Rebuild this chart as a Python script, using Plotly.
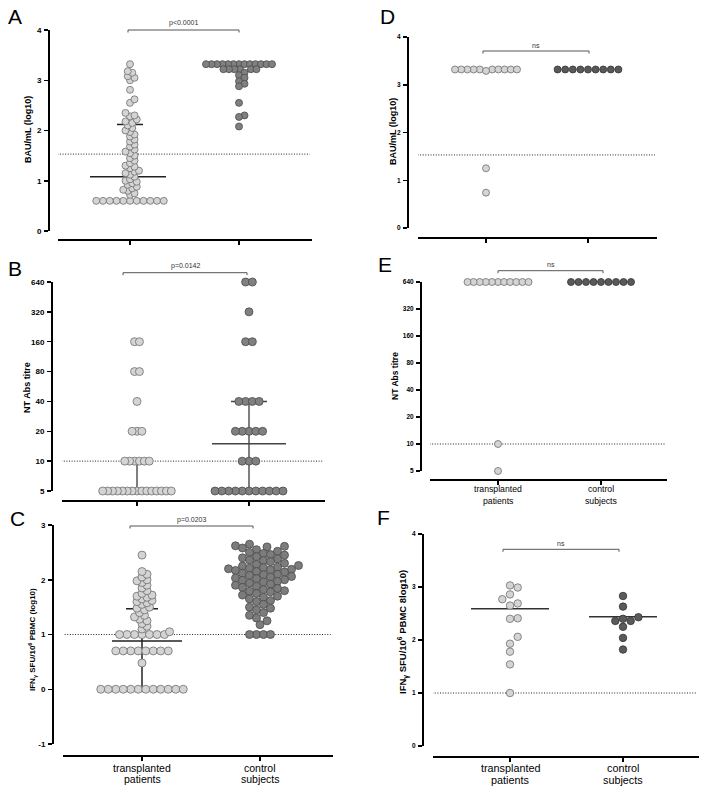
import math
import plotly.graph_objects as go

W, H = 705, 792

# ---------------- data ----------------
categories = ["transplanted<br>patients", "control<br>subjects"]

A_trans = [0.6, 0.6, 0.6, 0.6, 0.6, 0.6, 0.6, 0.6, 0.6, 0.6, 0.6,
           0.72, 0.75, 0.8, 0.82, 0.85, 0.88, 0.92, 0.95, 0.98, 1.0, 1.03,
           1.08, 1.12, 1.15, 1.18, 1.2, 1.25, 1.28, 1.3, 1.35, 1.4, 1.45,
           1.5, 1.55, 1.58, 1.62, 1.68, 1.72, 1.78, 1.82, 1.88, 1.92, 1.97,
           2.0, 2.05, 2.1, 2.15, 2.18, 2.22, 2.28, 2.3, 2.35, 2.55, 2.62,
           2.81, 3.0, 3.05, 3.08, 3.15, 3.18, 3.32]
A_ctrl = [3.32, 3.32, 3.32, 3.32, 3.32, 3.32, 3.32, 3.32, 3.32, 3.32, 3.32,
          3.32, 3.32, 3.22, 3.22, 3.22, 3.22, 3.22, 3.22, 3.15, 3.1, 3.05,
          2.98, 2.93, 2.88, 2.55, 2.3, 2.27, 2.08]
A_trans_median, A_trans_q3 = 1.08, 2.12

B_trans = [5, 5, 5, 5, 5, 5, 5, 5, 5, 5, 5, 5, 5, 5, 5,
           10, 10, 10, 10, 10, 10, 20, 20, 20, 40, 80, 80, 160, 160]
B_ctrl = [5, 5, 5, 5, 5, 5, 5, 5, 5, 5, 5, 10, 10, 10,
          20, 20, 20, 20, 20, 40, 40, 40, 40, 160, 160, 320, 640, 640]
B_trans_median, B_trans_q3 = 5, 10
B_ctrl_median, B_ctrl_q1, B_ctrl_q3 = 15, 5, 40

C_trans = [0, 0, 0, 0, 0, 0, 0, 0, 0, 0, 0, 0, 0.48,
           0.7, 0.7, 0.7, 0.7, 0.7, 0.7, 0.7, 0.7,
           1.0, 1.0, 1.0, 1.0, 1.0, 1.0, 1.0,
           1.05, 1.1, 1.15, 1.2, 1.25, 1.28, 1.32, 1.35, 1.4, 1.45, 1.48,
           1.5, 1.55, 1.58, 1.6, 1.62, 1.65, 1.68, 1.7, 1.72, 1.75, 1.8,
           1.85, 1.9, 1.95, 1.98, 2.0, 2.05, 2.1, 2.15, 2.45]
C_ctrl = [2.65, 2.62, 2.61, 2.6, 2.58, 2.55,
          2.52, 2.5, 2.48, 2.46, 2.45, 2.42,
          2.4, 2.38, 2.36, 2.35, 2.33, 2.3, 2.28,
          2.26, 2.25, 2.23, 2.22, 2.21, 2.2, 2.19, 2.18, 2.17, 2.15,
          2.14, 2.12, 2.1, 2.09, 2.08, 2.06, 2.05, 2.03, 2.02,
          2.0, 1.99, 1.97, 1.96, 1.94, 1.92, 1.9, 1.88,
          1.86, 1.84, 1.82, 1.8, 1.79, 1.78, 1.75,
          1.72, 1.7, 1.68, 1.65, 1.62,
          1.6, 1.55, 1.5, 1.48, 1.45, 1.4, 1.35, 1.3, 1.25, 1.18,
          1.0, 1.0, 1.0, 1.0]
C_trans_median, C_trans_q1, C_trans_q3 = 0.88, 0.0, 1.47

D_trans = [3.32, 3.32, 3.32, 3.32, 3.32, 3.32, 3.32, 3.32, 3.32, 3.32, 3.29, 1.25, 0.74]
D_ctrl = [3.32, 3.32, 3.32, 3.32, 3.32, 3.32, 3.32, 3.32, 3.32]

E_trans = [640, 640, 640, 640, 640, 640, 640, 640, 640, 640, 640, 10, 5]
E_ctrl = [640, 640, 640, 640, 640, 640, 640, 640, 640]

F_trans = [3.03, 2.99, 2.86, 2.77, 2.69, 2.65, 2.41, 2.40, 2.06, 1.93, 1.78, 1.54, 1.0]
F_ctrl = [2.83, 2.63, 2.43, 2.40, 2.36, 2.36, 2.25, 2.04, 1.82]
F_trans_mean, F_ctrl_mean = 2.59, 2.44

thresholds = {"A": 1.53, "B": 10, "C": 1.0, "D": 1.53, "E": 10, "F": 1.0}
pvalues = {"A": "p<0.0001", "B": "p=0.0142", "C": "p=0.0203", "D": "ns", "E": "ns", "F": "ns"}
ylin_ticks = {"A": [0, 1, 2, 3, 4], "C": [-1, 0, 1, 2, 3], "D": [0, 1, 2, 3, 4], "F": [0, 1, 2, 3, 4]}
ylog_ticks = [5, 10, 20, 40, 80, 160, 320, 640]
ytitles = {
    "A": "BAU/mL (log10)",
    "B": "NT Abs titre",
    "C": "IFN<sub>γ</sub> SFU/10<sup>6</sup> PBMC (log10)",
    "D": "BAU/mL (log10)",
    "E": "NT Abs titre",
    "F": "IFN<sub>γ</sub> SFU/10<sup>6</sup> PBMC 8log10)",
}

# ---------------- layout geometry (page pixels) ----------------
# xlab = (font size, first line centre y, second line centre y)
P = {
    "A": dict(yx=49, ytop=30, ybot=231, xl=58, xr=312, c1=130, c2=239, xline=240, yr=[0, 4], log=False,
              ms=7, tfs=8, ttl=(28, 130, 9), let=(15, 16), br=(128, 239, 30), xlab=None),
    "B": dict(yx=52, ytop=282, ybot=491, xl=62, xr=325, c1=137, c2=249, xline=500.7, yr=[5, 640], log=True,
              ms=8, tfs=8, ttl=(27, 388, 9), let=(15, 268), br=(123, 247, 272.7), xlab=None),
    "C": dict(yx=53, ytop=525, ybot=744, xl=63, xr=333, c1=142, c2=260, xline=756, yr=[-1, 3], log=False,
              ms=8, tfs=8, ttl=(32, 640, 8), let=(17, 518), br=(130, 253, 526), xlab=(10.5, 767.7, 779.3)),
    "D": dict(yx=408, ytop=37, ybot=228, xl=418, xr=657, c1=486, c2=588, xline=238, yr=[0, 4], log=False,
              ms=7, tfs=6.5, ttl=(393, 132, 9), let=(387, 16), br=(483, 589, 51), xlab=None),
    "E": dict(yx=421, ytop=282, ybot=471, xl=430, xr=667, c1=498, c2=601, xline=480, yr=[5, 640], log=True,
              ms=7, tfs=6.5, ttl=(395, 376, 8.5), let=(385, 265), br=(498, 603, 270.7), xlab=(8.7, 489.3, 500.7)),
    "F": dict(yx=423, ytop=534, ybot=746, xl=433, xr=699, c1=510, c2=623, xline=756.5, yr=[0, 4], log=False,
              ms=7.5, tfs=6.5, ttl=(403, 632, 9.5), let=(383, 517), br=(503, 619, 549.3), xlab=(10.8, 768.3, 780)),
}
swarm_par = {  # (min distance px, candidate step px, spacing of equal values px)
    "A": [(4.5, 2.25, 5.5), (5.0, 2.75, 5.5)],
    "B": [(4.9, 4.9, 4.9), (6.8, 6.8, 6.8)],
    "C": [(5.0, 2.5, 6.5), (7.0, 3.5, 6.2)],
    "D": [(6.2, 3.1, 6.2), (7.6, 7.6, 7.6)],
    "E": [(6.1, 6.1, 6.1), (7.5, 7.5, 7.5)],
    "F": [(7.5, 7.7, 7.7), (7.5, 7.7, 7.7)],
}

TRANS_FILL, TRANS_LINE = "#d4d4d4", "#6e6e6e"
CTRL_FILL = {"A": "#808080", "B": "#808080", "C": "#7c7c7c", "D": "#595959", "E": "#595959", "F": "#5a5a5a"}
CTRL_LINE = {"A": "#4a4a4a", "B": "#4a4a4a", "C": "#4a4a4a", "D": "#333333", "E": "#333333", "F": "#333333"}
FONT = "Liberation Sans, Arial, sans-serif"


def px(x):
    return min(max(x / W, 0.0), 1.0)


def py(y):
    return min(max(1 - y / H, 0.0), 1.0)


def swarm(vals, yfun, mind, step, rowsp):
    n = len(vals)
    order = sorted(range(n), key=lambda i: vals[i])
    xs = [0.0] * n
    placed = []
    cands = [0]
    for j in range(1, 400):
        cands += [j, -j]
    for i in order:
        y = yfun(vals[i])
        for c in cands:
            x = c * step
            ok = True
            for a, b, v in placed:
                d = rowsp if v == vals[i] else mind
                if (x - a) ** 2 + (y - b) ** 2 < d ** 2 - 1e-6:
                    ok = False
                    break
            if ok:
                break
        xs[i] = x
        placed.append((x, y, vals[i]))
    groups = {}
    for i, v in enumerate(vals):
        groups.setdefault(v, []).append(i)
    for v, idx in groups.items():
        if len(idx) > 1:
            m = sum(xs[i] for i in idx) / len(idx)
            for i in idx:
                xs[i] -= m
    return xs


fig = go.Figure()
shapes = []
annots = []
data = {"A": (A_trans, A_ctrl), "B": (B_trans, B_ctrl), "C": (C_trans, C_ctrl),
        "D": (D_trans, D_ctrl), "E": (E_trans, E_ctrl), "F": (F_trans, F_ctrl)}
EPS = 1e-6

for k, name in enumerate(["A", "B", "C", "D", "E", "F"], start=1):
    p = P[name]
    sfx = "" if k == 1 else str(k)
    xa, ya = "x" + sfx, "y" + sfx
    sp = p["c2"] - p["c1"]
    xr = [1 - (p["c1"] - p["xl"]) / sp, 2 + (p["xr"] - p["c2"]) / sp]
    if p["log"]:
        yr = [math.log10(p["yr"][0]), math.log10(p["yr"][1])]
    else:
        yr = list(p["yr"])
    ppu = (p["ybot"] - p["ytop"]) / (yr[1] - yr[0])
    yfun = (lambda v, u=ppu: math.log10(v) * u) if p["log"] else (lambda v, u=ppu: v * u)

    trans, ctrl = data[name]
    for gi, (vals, fill, lc) in enumerate([(trans, TRANS_FILL, TRANS_LINE),
                                            (ctrl, CTRL_FILL[name], CTRL_LINE[name])]):
        mind, step, rowsp = swarm_par[name][gi]
        offs = swarm(vals, yfun, mind, step, rowsp)
        fig.add_trace(go.Scatter(
            x=[gi + 1 + o / sp for o in offs], y=vals, mode="markers", xaxis=xa, yaxis=ya,
            marker=dict(size=p["ms"], color=fill, line=dict(color=lc, width=0.8)),
            cliponaxis=False, showlegend=False, hoverinfo="skip"))

    tickfont = dict(family=FONT, size=p["tfs"], color="black", weight="bold")
    xax = dict(
        domain=[px(p["xl"]), px(p["xr"])], range=xr, anchor="free", position=py(p["xline"]),
        showline=True, linecolor="black", linewidth=2, ticks="outside", ticklen=4, tickwidth=1.5,
        tickcolor="black", tickmode="array", tickvals=[1, 2], automargin=False,
        showticklabels=False, showgrid=False, zeroline=False, fixedrange=True)
    fig.layout["xaxis" + sfx] = xax
    # category labels (two tight lines, as in the original figure)
    if p["xlab"]:
        fs, l1, l2 = p["xlab"]
        for ci, cat in enumerate(categories):
            cx = p["c1"] if ci == 0 else p["c2"]
            for line, ly_ in zip(cat.split("<br>"), (l1, l2)):
                annots.append(dict(x=px(cx), y=py(ly_), xref="paper", yref="paper", text=line,
                                   showarrow=False, xanchor="center", yanchor="middle",
                                   font=dict(family=FONT, size=fs, color="black")))
    yax = dict(
        domain=[py(p["ybot"]), py(p["ytop"])], range=[yr[0] - EPS, yr[1] + EPS], anchor="free",
        position=px(p["yx"]), automargin=False,
        showline=True, linecolor="black", linewidth=2, ticks="outside", ticklen=4, tickwidth=1.5,
        tickcolor="black", tickmode="array", tickfont=tickfont, ticklabelstandoff=1,
        showgrid=False, zeroline=False, fixedrange=True)
    if p["log"]:
        yax.update(type="log", tickvals=ylog_ticks, ticktext=[str(t) for t in ylog_ticks])
    else:
        yax.update(tickvals=ylin_ticks[name], ticktext=[str(t) for t in ylin_ticks[name]])
    fig.layout["yaxis" + sfx] = yax

    # detection-threshold dotted line
    shapes.append(dict(type="line", xref=xa, yref=ya, x0=xr[0] - 0.03, x1=xr[1] - 0.02,
                       y0=thresholds[name], y1=thresholds[name], layer="below",
                       line=dict(color="#222222", width=1, dash="1px,1.6px")))
    # significance bracket
    bx0, bx1, by = p["br"]
    for (x0, y0, x1, y1) in [(bx0, by, bx1, by), (bx0, by, bx0, by + 2.5), (bx1, by, bx1, by + 2.5)]:
        shapes.append(dict(type="line", xref="paper", yref="paper", x0=px(x0), x1=px(x1),
                           y0=py(y0), y1=py(y1), line=dict(color="#555555", width=1)))
    annots.append(dict(x=px((bx0 + bx1) / 2), y=py(by - 0.5), xref="paper", yref="paper",
                       text=pvalues[name], showarrow=False, yanchor="bottom", xanchor="center",
                       font=dict(family=FONT, size=7, color="#333333")))
    # y title
    tx, ty, tsz = p["ttl"]
    annots.append(dict(x=px(tx), y=py(ty), xref="paper", yref="paper", text=ytitles[name],
                       textangle=-90, showarrow=False, xanchor="center", yanchor="middle",
                       font=dict(family=FONT, size=tsz, color="black", weight="bold")))
    # panel letter
    lx, ly = p["let"]
    annots.append(dict(x=px(lx), y=py(ly), xref="paper", yref="paper", text=name, showarrow=False,
                       xanchor="center", yanchor="middle",
                       font=dict(family=FONT, size=21, color="black")))


def hline(xa, ya, xc, half, y, color, width=1.5):
    shapes.append(dict(type="line", xref=xa, yref=ya, x0=xc - half, x1=xc + half, y0=y, y1=y,
                       layer="below", line=dict(color=color, width=width)))


def vline(xa, ya, xc, y0, y1, color, width=1.5):
    shapes.append(dict(type="line", xref=xa, yref=ya, x0=xc, x1=xc, y0=y0, y1=y1,
                       layer="below", line=dict(color=color, width=width)))


# summary lines (median / interquartile range, mean for F)
spA = P["A"]["c2"] - P["A"]["c1"]
hline("x", "y", 1 - 2 / spA, 38 / spA, A_trans_median, "#222222")
hline("x", "y", 1, 13 / spA, A_trans_q3, "#222222")

spB = P["B"]["c2"] - P["B"]["c1"]
vline("x2", "y2", 1, B_trans_median, B_trans_q3, "#555555")
vline("x2", "y2", 2, B_ctrl_q1, B_ctrl_q3, "#555555")
hline("x2", "y2", 2, 37 / spB, B_ctrl_median, "#444444")
hline("x2", "y2", 2, 18 / spB, B_ctrl_q3, "#444444")

spC = P["C"]["c2"] - P["C"]["c1"]
vline("x3", "y3", 1, C_trans_q1, C_trans_q3, "#222222")
hline("x3", "y3", 1 + 5 / spC, 35 / spC, C_trans_median, "#222222")
hline("x3", "y3", 1, 16 / spC, C_trans_q3, "#222222")

spF = P["F"]["c2"] - P["F"]["c1"]
hline("x6", "y6", 1, 39 / spF, F_trans_mean, "#333333")
hline("x6", "y6", 2, 34 / spF, F_ctrl_mean, "#333333")

fig.update_layout(
    template="none",
    width=W, height=H, margin=dict(l=0, r=0, t=0, b=0, pad=0, autoexpand=False),
    paper_bgcolor="white", plot_bgcolor="rgba(0,0,0,0)",
    shapes=shapes, annotations=annots, showlegend=False,
    font=dict(family=FONT),
)

# remove the default page margin so the figure sits at the window's top-left corner
fig.write_html("out.html", config={"displayModeBar": False, "staticPlot": True},
               post_script="document.body.style.margin='0';"
                           "document.body.style.overflow='hidden';")
